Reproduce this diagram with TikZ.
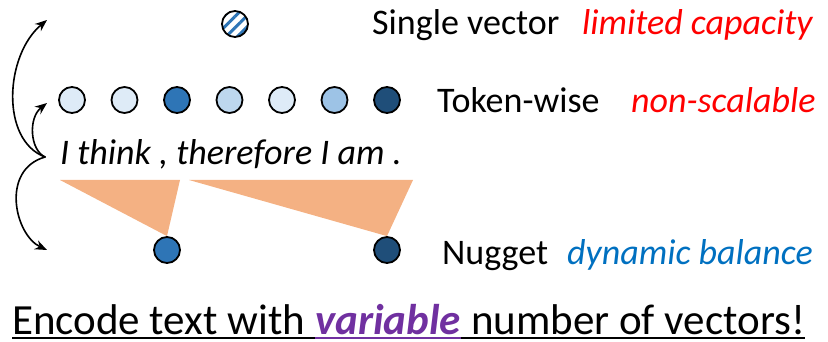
\documentclass[tikz,border=0pt]{standalone}
\usepackage{fontspec}
\setmainfont{Carlito}
\usetikzlibrary{arrows.meta,patterns.meta}
\definecolor{tokA}{HTML}{DEEBF7}
\definecolor{tokB}{HTML}{2E75B6}
\definecolor{tokC}{HTML}{BDD7EE}
\definecolor{tokD}{HTML}{9DC3E6}
\definecolor{tokE}{HTML}{1F4E79}
\definecolor{spanfill}{HTML}{F4B183}
\definecolor{limred}{HTML}{FF0000}
\definecolor{balblue}{HTML}{0070C0}
\definecolor{varpurple}{HTML}{7030A0}

\begin{document}
\begin{tikzpicture}[x=1pt, y=-1pt, line join=round, line cap=round, >={Stealth[length=12pt,width=9.5pt]},
		vec/.style={circle, draw, line width=1.8pt, minimum size=26pt, inner sep=0pt},
		lbl/.style={anchor=base west, inner sep=0pt, font=\fontsize{36}{40}\selectfont},
		big/.style={anchor=base west, inner sep=0pt, font=\fontsize{43}{48}\selectfont}]
	\useasboundingbox (0,0) rectangle (828,342);
	% single vector
	\node[vec, preaction={fill=white}, pattern={Lines[angle=45,distance=8pt,line width=3pt]}, pattern color=tokB] (sv) at (235,24) {};
	% token-wise
	\foreach \c [count=\i] in {tokA,tokA,tokB,tokC,tokA,tokD,tokE}
		\node[vec, fill=\c] (t\i) at ({72+52.5*(\i-1)},100) {};
	% nuggets
	\node[vec, fill=tokB] (n1) at (167,250) {};
	\node[vec, fill=tokE] (n2) at (387,250) {};
	% sentence and spans
	\node[lbl, font=\fontsize{36}{40}\selectfont\itshape] (sent) at (60,165) {I think , therefore I am .};
	\fill[spanfill] (60,180) -- (180,180) -- (n1.north) -- cycle;
	\fill[spanfill] (189,180) -- (413,180) -- (n2.north) -- cycle;
	% labels
	\node[lbl] (lsv) at (372,35) {Single vector};
	\node[lbl, text=limred, font=\fontsize{36}{40}\selectfont\itshape] (csv) at (582,35) {limited capacity};
	\node[lbl] (ltw) at (437,113) {Token-wise};
	\node[lbl, text=limred, font=\fontsize{36}{40}\selectfont\itshape] (ctw) at (631,113) {non-scalable};
	\node[lbl] (lng) at (442,264) {Nugget};
	\node[lbl, text=balblue, font=\fontsize{36}{40}\selectfont\itshape] (cng) at (567,264) {dynamic balance};
	% arrows
	\coordinate (src) at (45,157);
	\coordinate (esv) at (47,20);
	\coordinate (etw) at (47,103);
	\coordinate (eng) at (47,250);
	\draw[->, line width=1.6pt] (src) .. controls (0,140) and (5,55) .. (esv);
	\draw[->, line width=1.6pt] (src) .. controls (30,150) and (28,118) .. (etw);
	\draw[->, line width=1.6pt] (src) .. controls (0,170) and (15,235) .. (eng);
	% bottom line
	\node[big] (enc) at (12,334) {Encode text with};
	\node[big, text=varpurple, font=\fontsize{43}{48}\selectfont\bfseries\itshape] (var) at ([xshift=9.7pt]enc.base east) {variable};
	\node[big] (fin) at ([xshift=9.7pt]var.base east) {number of vectors!};
	\draw[line width=2pt, line cap=butt] ([yshift=-4pt]enc.base west) -- ([yshift=-4pt]fin.base east);
	\draw[line width=2pt, line cap=butt, varpurple] ([yshift=-4pt]var.base west) -- ([yshift=-4pt]var.base east);
\end{tikzpicture}
\end{document}
